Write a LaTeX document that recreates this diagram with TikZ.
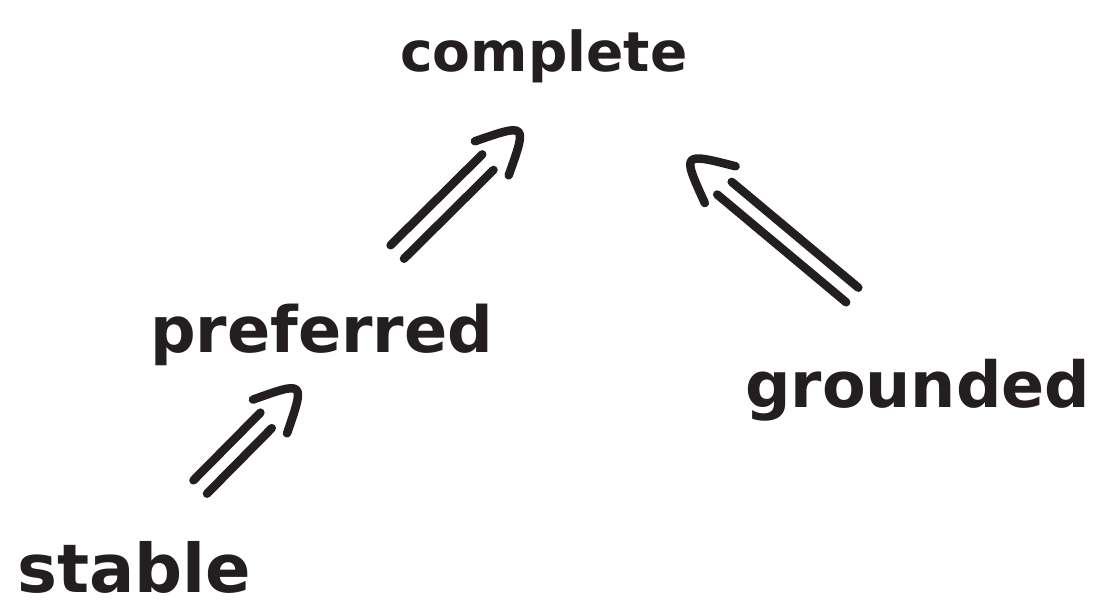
\documentclass[tikz,border=0pt]{standalone}
\usepackage{fontspec}
\setmainfont{DejaVu Sans}
\usepackage{graphicx}
\usetikzlibrary{calc}
\definecolor{ink}{RGB}{35,31,32}
\begin{document}
\begin{tikzpicture}[x=1pt,y=1pt,
  word/.style={inner sep=0pt, text=ink, font=\bfseries, anchor=base west},
  % double-stroke implication arrow with a rounded hook tip
  impl/.style={draw=ink, line width=8.5pt, line cap=round, line join=round,
    to path={
      let \p1=(\tikztostart), \p2=(\tikztotarget),
          \n1={atan2(\y2-\y1,\x2-\x1)},
          \n2={veclen(\x2-\x1,\y2-\y1)}
      in
        ($(\p1)+(\n1+90:9.5)$) -- ($(\p1)+(\n1+90:9.5)+(\n1:\n2-30)$)
        ($(\p1)+(\n1-90:9.5)$) -- ($(\p1)+(\n1-90:9.5)+(\n1:\n2-33)$)
        ($(\p2)+(\n1:-26)+(\n1+90:24)$)
          .. controls ($(\p2)+(\n1:24)$) ..
        ($(\p2)+(\n1:-26)+(\n1-90:24)$)
    }}]
\fill[white] (0,0) rectangle (1104,607);
\useasboundingbox (0,0) rectangle (1104,607);

\node[word] (comp) at (400,535) {\resizebox{287pt}{!}{complete}};
\node[word] (pref) at (150,254) {\resizebox{343pt}{!}{preferred}};
\node[word] (grnd) at (745,199) {\resizebox{345pt}{!}{grounded}};
\node[word] (stab) at (17,14)   {\resizebox{234pt}{!}{stable}};

\draw[impl] ([shift={(75.5,101)}]pref.base) to ([shift={(-33.5,-68)}]comp.base);
\draw[impl] ([shift={(66,106)}]stab.base) to ([shift={(-33.5,-45)}]pref.base);
\draw[impl] ([shift={(-65.5,113)}]grnd.base) to ([shift={(156.5,-96)}]comp.base);
\end{tikzpicture}
\end{document}
